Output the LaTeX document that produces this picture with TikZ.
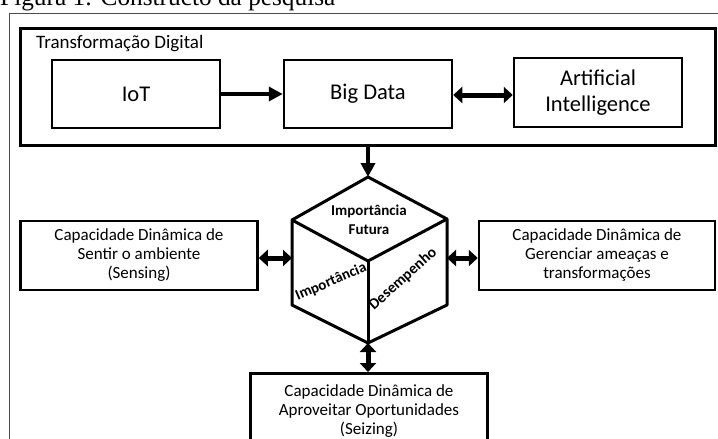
\documentclass[tikz,border=0pt]{standalone}
\usepackage{fontspec}
\setmainfont{Carlito}
\newfontfamily\titlefont{Liberation Serif}
\usepackage{tikz}
\usetikzlibrary{arrows.meta}

\begin{document}
\begin{tikzpicture}[
    x=1pt,y=-1pt,
    box/.style={draw,line width=2.5pt,inner sep=2pt,minimum width=168pt,minimum height=68pt,font=\fontsize{22.5}{26}\selectfont,align=center},
    sidebox/.style={draw,line width=2.5pt,inner sep=2pt,minimum width=237pt,minimum height=69pt,font=\fontsize{17}{19}\selectfont,align=center},
    fatarrow/.style={line width=4pt,-{Triangle[length=14pt,width=14pt]}},
    twoway/.style={line width=5pt,{Triangle[length=9pt,width=16pt]}-{Triangle[length=9pt,width=16pt]}},
    face/.style={font=\fontsize{15}{17}\selectfont\bfseries,inner sep=0}
  ]

    \clip (0,0) rectangle (718,439);

    % Caption and frame
    \node[anchor=base west,inner sep=0,font=\titlefont\fontsize{25.3}{28}\selectfont] (title) at (0,5.5)
      {Figura 1: Constructo da pesquisa};
    \draw[line width=0.8pt,black!70] (9,439) -- (9,13) -- (718,13);

    % Digital transformation block
    \node[draw,line width=3pt,minimum width=695pt,minimum height=117pt] (td) at (367.5,86.5) {};
    \node[anchor=base west,inner sep=0,font=\fontsize{19}{22}\selectfont] (tdlabel) at (36,48)
      {Transformação Digital};
    \node[box] (iot) at (136,94) {IoT};
    \node[box] (bigdata) at (368,94) {Big Data};
    \node[box,minimum height=69pt] (ai) at (598,92.5) {Artificial \\ Intelligence};

    \draw[fatarrow] (iot) -- (bigdata);
    \draw[twoway] (bigdata.east |- 0,95) -- (ai.west |- 0,95);

    % The cube
    \coordinate (ctop) at (368,177);
    \coordinate (cul) at (292,220);
    \coordinate (cur) at (447,219);
    \coordinate (cc) at (368,261);
    \coordinate (cll) at (292,305);
    \coordinate (clr) at (447,305);
    \coordinate (cbot) at (368,343);
    \coordinate (cleft) at (292,258);
    \coordinate (cright) at (447,258);

    \draw[line width=3pt,line join=round] (ctop) -- (cur) -- (clr) -- (cbot) -- (cll) -- (cul) -- cycle;
    \draw[line width=3pt,line join=round] (cul) -- (cc) -- (cur);
    \draw[line width=3pt] (cc) -- (cbot);

    \node[face,align=center] (future) at (369,220) {Importância \\[2pt] Futura};
    \node[face,rotate=23] (imp) at (331,282) {Importância};
    \node[face,font=\fontsize{15.5}{17}\selectfont\bfseries,rotate=42] (perf) at (403,279) {Desempenho};

    \draw[fatarrow] (td.south -| ctop) -- (ctop);

    % Dynamic capabilities
    \node[sidebox] (sense) at (139,255.5)
      {Capacidade Dinâmica de \\ Sentir o ambiente \\ (Sensing)};
    \node[sidebox,minimum width=236pt] (manage) at (597,255.5)
      {Capacidade Dinâmica de \\ Gerenciar ameaças e \\ transformações};
    \node[sidebox,anchor=north,minimum height=76pt] (seize) at (369,372)
      {Capacidade Dinâmica de \\ Aproveitar Oportunidades \\ (Seizing)};

    \draw[twoway] (sense.east |- cleft) -- (cleft);
    \draw[twoway] (cright) -- (manage.west |- cright);
    \draw[twoway] (cbot) -- (seize.north -| cbot);

  \end{tikzpicture}
\end{document}
